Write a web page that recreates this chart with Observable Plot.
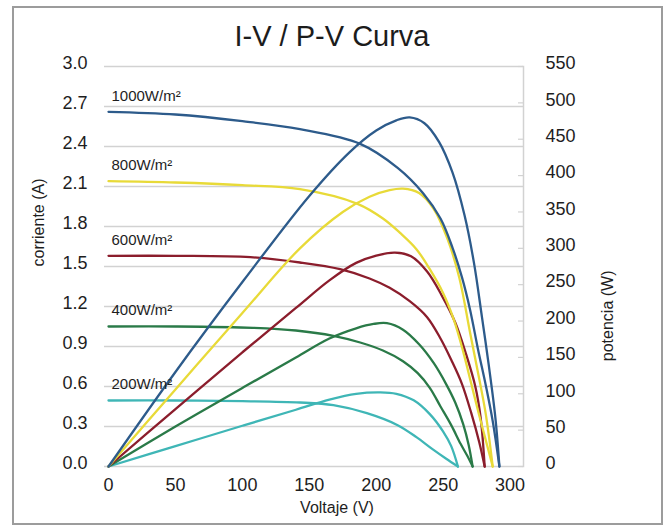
<!DOCTYPE html>
<html>
<head>
<meta charset="utf-8">
<script src="https://cdn.jsdelivr.net/npm/d3@7"></script>
<script src="https://cdn.jsdelivr.net/npm/@observablehq/plot@0.6"></script>
<style>
  body { margin: 0; background: #fff; font-family: "Liberation Sans", Arial, sans-serif; }
  #wrap { position: relative; width: 670px; height: 526px; overflow: hidden; background: #fff; }
  #border { position: absolute; left: 12px; top: 6px; width: 651px; height: 519px; border: 2px solid #9c9c9c; box-sizing: border-box; }
  #title { position: absolute; left: 0; top: 22px; width: 664px; text-align: center; font-size: 29px; line-height: 29px; color: #1c1c1c; }
  #chart { position: absolute; left: 0; top: 0; }
</style>
</head>
<body>
<div id="wrap">
  <div id="border"></div>
  <div id="chart"></div>
  <div id="title">I-V / P-V Curva</div>
</div>
<script>
// ---- Data (Voltage V, Current A / Power W) ----
const voltTicks = [0, 50, 100, 150, 200, 250, 300];
const currentTicks = [0, 0.3, 0.6, 0.9, 1.2, 1.5, 1.8, 2.1, 2.4, 2.7, 3.0];
const powerTicks = [0, 50, 100, 150, 200, 250, 300, 350, 400, 450, 500, 550];
const currentMax = 3.0;
const powerMax = 550;

const irradianceLabels = ["1000W/m²", "800W/m²", "600W/m²", "400W/m²", "200W/m²"];
const seriesColors = ["#2d5b8b", "#e8da38", "#8b1d2c", "#2a7a48", "#3fb6b6"];

const iv1000 = [[0,2.66],[50,2.64],[100,2.59],[143,2.53],[188,2.42],[216,2.24],[235,2.05],[248,1.86],[257,1.64],[264,1.42],[270,1.18],[276,0.88],[282,0.60],[287,0.34],[292,0]];
const pv1000 = [[0,0],[50,130],[101,256],[150,372],[180,432],[200,462],[215,476],[225,480],[236,472],[247,446],[257,404],[266,345],[273,280],[279,205],[284,140],[289,67],[292,0]];

const iv800 = [[0,2.14],[50,2.13],[100,2.11],[143,2.08],[186,1.97],[205,1.86],[218,1.75],[230,1.63],[240,1.48],[250,1.30],[258,1.10],[265,0.86],[271,0.62],[277,0.38],[282,0.19],[287,0]];
const pv800 = [[0,0],[50,106],[100,211],[143,300],[175,350],[195,371],[210,380],[220,382],[232,376],[243,354],[253,314],[262,260],[270,185],[277,120],[282,70],[287,0]];

const iv600 = [[0,1.58],[50,1.58],[106,1.57],[143,1.53],[173,1.48],[195,1.41],[210,1.34],[225,1.24],[238,1.12],[248,0.96],[256,0.80],[264,0.62],[271,0.40],[277,0.18],[281,0]];
const pv600 = [[0,0],[50,79],[100,157],[140,218],[165,256],[185,280],[200,290],[214,294],[226,289],[238,268],[249,235],[259,198],[267,155],[274,110],[278,67],[281,0]];

const iv400 = [[0,1.05],[50,1.05],[108,1.04],[140,1.02],[168,0.98],[188,0.93],[205,0.87],[220,0.79],[231,0.70],[240,0.59],[248,0.45],[256,0.31],[263,0.17],[268,0.08],[272,0]];
const pv400 = [[0,0],[50,55],[100,108],[140,150],[165,176],[185,190],[198,196],[208,197],[220,188],[232,168],[243,142],[252,114],[259,88],[265,58],[269,30],[272,0]];

const iv200 = [[0,0.495],[50,0.495],[100,0.49],[143,0.48],[168,0.46],[193,0.40],[216,0.31],[230,0.22],[242,0.13],[252,0.06],[261,0]];
const pv200 = [[0,0],[50,28],[100,56],[140,78],[165,92],[185,100],[203,102],[215,100],[228,91],[240,72],[250,48],[256,28],[261,0]];

const ivSeries = [iv1000, iv800, iv600, iv400, iv200];
const pvSeries = [pv1000, pv800, pv600, pv400, pv200];

// power is drawn against the shared y scale (550 W at the same height as 3.0 A)
const toY = w => w * currentMax / powerMax;

const FONT = "'Liberation Sans', Arial, sans-serif";
const TXT = "#1e1e1e";
const GRID = "#d2d2d2";

const lineMarks = [];
for (let i = ivSeries.length - 1; i >= 0; i--) {
  const color = seriesColors[i];
  lineMarks.push(Plot.line(ivSeries[i], {x: d => d[0], y: d => d[1], stroke: color, strokeWidth: 2.3, curve: "catmull-rom"}));
  lineMarks.push(Plot.line(pvSeries[i], {x: d => d[0], y: d => toY(d[1]), stroke: color, strokeWidth: 2.3, curve: "catmull-rom"}));
}

const labelRows = irradianceLabels.map((t, i) => ({text: t, isc: ivSeries[i][0][1]}));

const chart = Plot.plot({
  width: 670,
  height: 526,
  marginLeft: 108,
  marginRight: 147,
  marginTop: 66,
  marginBottom: 60,
  style: {fontFamily: FONT, background: "transparent", color: TXT},
  x: {domain: [0, 310]},
  y: {domain: [0, currentMax]},
  marks: [
    Plot.ruleY(currentTicks, {stroke: GRID, strokeWidth: 1.5, insetLeft: -4}),
    Plot.frame({anchor: "right", stroke: GRID, strokeWidth: 1.5}),
    Plot.tickY(powerTicks, {y: d => toY(d), stroke: GRID, strokeWidth: 1.2, insetLeft: 410}),
    Plot.axisY(currentTicks, {anchor: "left", tickSize: 0, tickPadding: 21, dy: -3, fontSize: 18, tickFormat: d3.format(".1f"), label: null, fill: TXT}),
    Plot.axisY(powerTicks.map(toY), {anchor: "right", tickSize: 0, tickPadding: 22, dy: -3, fontSize: 18, tickFormat: d => String(Math.round(d * powerMax / currentMax)), label: null, fill: TXT}),
    Plot.axisX(voltTicks, {anchor: "bottom", tickSize: 0, tickPadding: 12, fontSize: 18, label: null, fill: TXT}),
    Plot.text(["corriente (A)"], {frameAnchor: "left", rotate: -90, dx: -70, fontSize: 16, fill: TXT}),
    Plot.text(["potencia (W)"], {frameAnchor: "right", rotate: -90, dx: 84, dy: 4, fontSize: 16, fill: TXT}),
    Plot.text(["Voltaje (V)"], {frameAnchor: "bottom", dx: 21, dy: 46, fontSize: 16, fill: TXT}),
    ...lineMarks,
    Plot.text(labelRows, {y: "isc", text: "text", frameAnchor: "left", textAnchor: "start", dx: 3, dy: -16, fontSize: 15, fill: TXT})
  ]
});
document.getElementById("chart").appendChild(chart);
</script>
</body>
</html>
